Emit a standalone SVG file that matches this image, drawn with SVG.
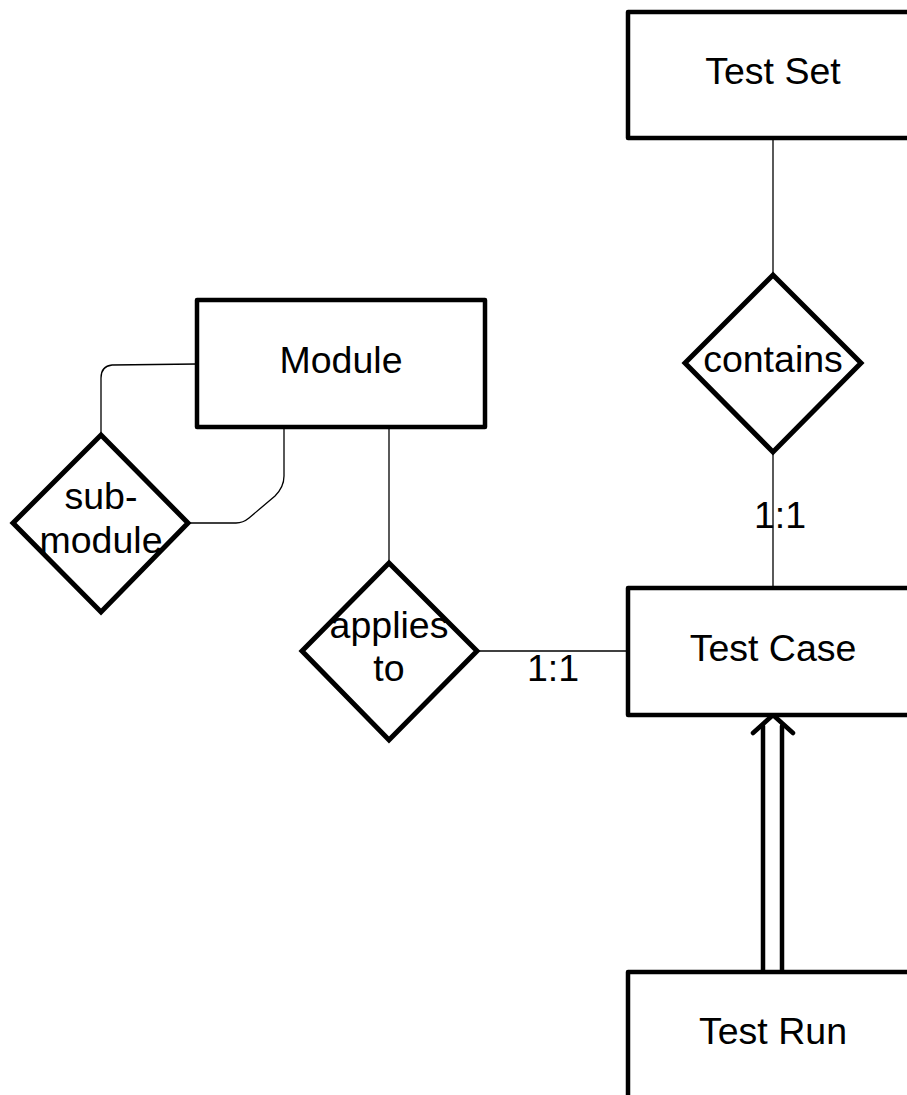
<svg xmlns="http://www.w3.org/2000/svg" width="907" height="1095" viewBox="0 0 907 1095">
  <style>
    .entity { fill: #ffffff; stroke: #000000; stroke-width: 4.5; stroke-linejoin: round; }
    .relation { fill: #ffffff; stroke: #000000; stroke-width: 5; stroke-linejoin: miter; }
    .label { font-family: "Liberation Sans", Arial, sans-serif; font-size: 37.5px; fill: #000000; text-anchor: middle; }
    .link { fill: none; stroke: #000000; stroke-width: 1.3; }
    .thick { fill: none; stroke: #000000; stroke-width: 4.5; stroke-linecap: round; stroke-linejoin: round; }
  </style>
  <rect width="907" height="1095" fill="#ffffff"/>

  <!-- connectors -->
  <g id="connectors">
    <!-- Test Set to contains -->
    <path class="link" d="M773,138 L773,275"/>
    <!-- contains to Test Case -->
    <path class="link" d="M773,452 L773,588"/>
    <text class="label" x="780" y="528">1:1</text>
    <!-- Module to applies to -->
    <path class="link" d="M389,427 L389,563"/>
    <!-- applies to to Test Case -->
    <path class="link" d="M477,651 L628,651"/>
    <text class="label" x="553" y="681">1:1</text>
    <!-- Module self relation through sub-module -->
    <path class="link" d="M197,364 L112,365 Q101,366 101,378 L101,435"/>
    <path class="link" d="M284,427 L284,476 Q284,487 275,496 L249,518 Q243,523 236,523 L188,523"/>
    <!-- Test Run to Test Case (double line) -->
    <path class="thick" d="M763,972 L763,726"/>
    <path class="thick" d="M782,972 L782,726"/>
    <path class="thick" d="M753,733 L773,715 L793,733"/>
  </g>

  <g id="test-set">
    <rect class="entity" x="628" y="12" width="300" height="126"/>
    <text class="label" x="773" y="84">Test Set</text>
  </g>

  <g id="contains">
    <polygon class="relation" points="773,275 861,363 773,452 685,363"/>
    <text class="label" x="773" y="372">contains</text>
  </g>

  <g id="module">
    <rect class="entity" x="197" y="300" width="288" height="127"/>
    <text class="label" x="341" y="373">Module</text>
  </g>

  <g id="sub-module">
    <polygon class="relation" points="101,435 188,523 101,612 13,523"/>
    <text class="label" x="101" y="509">sub-</text>
    <text class="label" x="101" y="553">module</text>
  </g>

  <g id="applies-to">
    <polygon class="relation" points="389,563 477,651 389,740 302,651"/>
    <text class="label" x="389" y="638">applies</text>
    <text class="label" x="389" y="681">to</text>
  </g>

  <g id="test-case">
    <rect class="entity" x="628" y="588" width="300" height="127"/>
    <text class="label" x="773" y="661">Test Case</text>
  </g>

  <g id="test-run">
    <rect class="entity" x="628" y="972" width="300" height="160"/>
    <text class="label" x="773" y="1044">Test Run</text>
  </g>
</svg>
